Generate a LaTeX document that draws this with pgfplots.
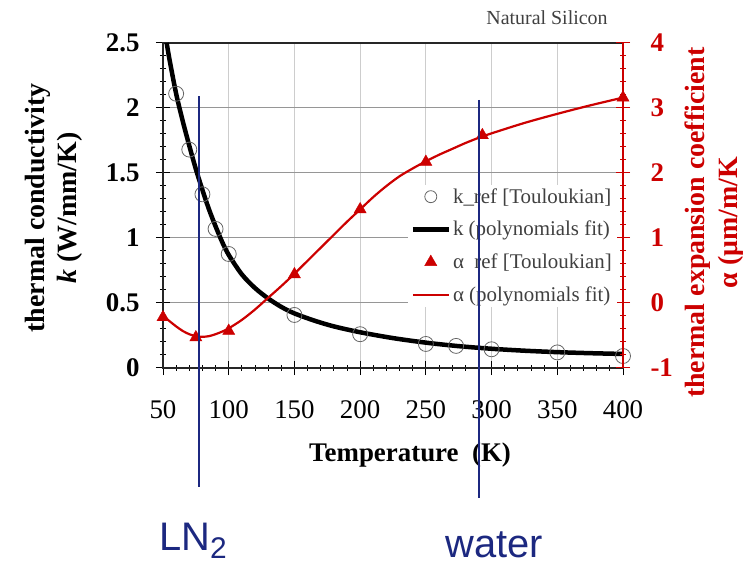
\documentclass[border=0pt]{standalone}
\usepackage{pgfplots}
\pgfplotsset{compat=1.18}
\usepackage{fontspec}
\setmainfont{Liberation Serif}
\newfontfamily\arialfont{Liberation Sans}
\definecolor{kred}{RGB}{204,0,0}
\definecolor{navy}{RGB}{28,40,128}
\definecolor{gridv}{RGB}{205,205,205}
\definecolor{gridh}{RGB}{150,150,150}
\pgfplotsset{
  legend image code/.code={\draw[mark repeat=2,mark phase=2,#1] plot coordinates {(0bp,0bp)(18bp,0bp)(36bp,0bp)};},
  base/.style={
    at={(163bp,196bp)}, anchor=south west,
    width=460bp, height=325bp, scale only axis,
    xmin=50, xmax=400,
    /pgf/number format/assume math mode=true,
  }
}
\begin{document}
\begin{tikzpicture}
\useasboundingbox (0,0) rectangle (749bp,564bp);
% ---------- left axis: thermal conductivity ----------
\begin{axis}[base,
  ymin=0, ymax=2.5,
  xtick={50,100,...,400}, ytick={0,0.5,1,1.5,2,2.5},
  minor x tick num=4, minor y tick num=4,
  xtick pos=bottom, ytick pos=left,
  tick align=center, major tick length=14bp, minor tick length=6bp,
  grid=major, x grid style={gridv, line width=1.2bp}, y grid style={gridh, line width=1bp},
  axis line style={black!85, line width=1.4bp},
  every tick/.style={black, line width=1bp},
  yticklabel style={font=\fontsize{27}{27}\selectfont\bfseries, xshift=-13bp},
  xticklabel style={font=\fontsize{27}{27}\selectfont, yshift=-22bp},
  xlabel={Temperature~~(K)},
  xlabel style={font=\fontsize{27}{27}\selectfont\bfseries, at={(axis description cs:0.537,-0.289)}, anchor=base},
  ylabel={thermal conductivity\\\textit{k} (W/mm/K)},
  ylabel style={font=\fontsize{28}{32}\selectfont\bfseries, align=center, at={(axis description cs:-0.237,0.492)}, anchor=center},
]
\addplot[only marks, mark=o, mark size=7.5bp, mark options={draw=black!60, line width=0.8bp}] coordinates {
(60,2.11) (70,1.68) (80,1.336) (90,1.07) (100,0.877) (150,0.408) (200,0.26)
(250,0.185) (273,0.17) (300,0.144) (350,0.12) (400,0.092)
};
\addplot[black, line width=4.5bp, smooth] coordinates {
(52.8,2.5) (55,2.37) (60,2.11) (65,1.90) (70,1.71) (75,1.53) (80,1.37) (85,1.22)
(90,1.09) (95,0.97) (100,0.87) (110,0.72) (120,0.615) (130,0.535) (140,0.47)
(150,0.42) (165,0.365) (180,0.32) (200,0.275) (225,0.23) (250,0.195) (275,0.168)
(300,0.148) (325,0.133) (350,0.122) (375,0.114) (400,0.108)
};
\end{axis}
% ---------- right axis: thermal expansion ----------
\begin{axis}[base,
  ymin=-1, ymax=4,
  axis y line*=right, axis x line=none,
  ytick={-1,0,1,2,3,4}, minor y tick num=4,
  tick align=center, major tick length=14bp, minor tick length=6bp,
  y axis line style={kred, line width=1.5bp},
  every tick/.style={kred, line width=1bp},
  yticklabel style={font=\fontsize{27}{27}\selectfont\bfseries, text=kred, xshift=17bp},
  ylabel={thermal expansion  coefficient\\α (μm/m/K},
  ylabel style={font=\fontsize{28}{33}\selectfont\bfseries, text=kred, align=center, at={(axis description cs:1.198,0.447)}, anchor=center},
  legend style={at={(0.987,0.565)}, anchor=north east, draw=none, fill=white,
    font=\fontsize{21}{21}\selectfont, text=black!75, row sep=12.5bp},
  legend cell align=left,
]
\addlegendimage{only marks, mark=o, mark size=6bp, mark options={draw=black!60, line width=0.8bp}}
\addlegendentry{k\_ref [Touloukian]}
\addlegendimage{black, line width=4.5bp}
\addlegendentry{k (polynomials fit)}
\addplot[only marks, mark=triangle*, mark size=7bp, color=kred] coordinates {
(50,-0.22) (75,-0.53) (100,-0.43) (150,0.44) (200,1.44) (250,2.17) (293,2.58) (400,3.16)
};
\addlegendentry{α~ ref [Touloukian]}
\addplot[kred, line width=2.2bp, smooth] coordinates {
(50,-0.2) (55,-0.28) (60,-0.36) (65,-0.43) (70,-0.48) (75,-0.51) (80,-0.52) (85,-0.51)
(90,-0.48) (95,-0.44) (100,-0.39) (110,-0.26) (120,-0.1) (130,0.08) (140,0.26)
(150,0.45) (160,0.65) (170,0.85) (180,1.05) (190,1.25) (200,1.44) (210,1.63)
(220,1.8) (230,1.95) (240,2.07) (250,2.18) (260,2.28) (270,2.37) (280,2.46)
(290,2.54) (300,2.61) (325,2.77) (350,2.91) (375,3.04) (400,3.16)
};
\addlegendentry{α (polynomials fit)}
\end{axis}
% ---------- annotations ----------
\begin{axis}[base, ymin=0, ymax=2.5, hide axis, clip=false]
\addplot[navy, line width=1.8bp] coordinates {(77.4,2.092) (77.4,-0.915)};
\addplot[navy, line width=1.8bp] coordinates {(290.4,2.062) (290.4,-1.0)};
\node[anchor=base, font=\arialfont\fontsize{40}{40}\selectfont, text=navy] at (axis cs:72.8,-1.40)
  {LN\raisebox{-8bp}{\fontsize{30}{30}\selectfont 2}};
\node[anchor=base, font=\arialfont\fontsize{40}{40}\selectfont, text=navy] at (axis cs:301.9,-1.454) {water};
\node[font=\fontsize{20}{20}\selectfont, text=black!75] at (axis cs:342.2,2.692) {Natural Silicon};
\end{axis}
\end{tikzpicture}
\end{document}
